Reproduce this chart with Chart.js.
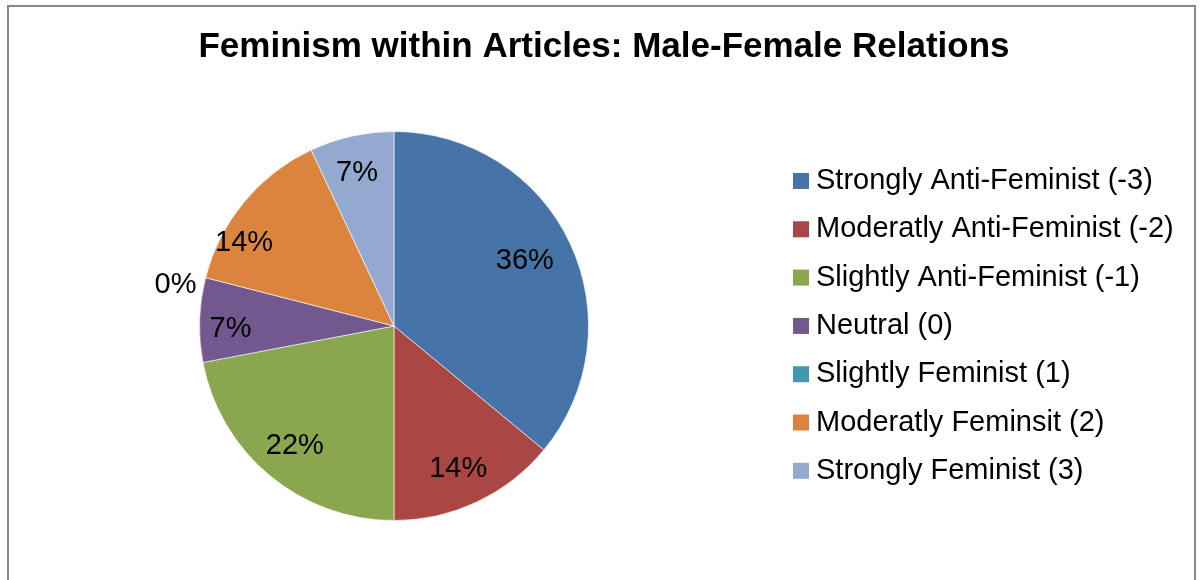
<!DOCTYPE html>
<html>
<head>
<meta charset="utf-8">
<script src="https://cdn.jsdelivr.net/npm/chart.js@4"></script>
<style>
  html, body { margin: 0; padding: 0; background: #fff; overflow: hidden; }
  #frame { position: absolute; left: 7px; top: 5px; width: 1189px; height: 600px; border: 2px solid #878787; box-sizing: border-box; }
  #wrap { position: absolute; left: 0; top: 0; width: 1204px; height: 580px; }
</style>
</head>
<body>
<div id="frame"></div>
<div id="wrap"><canvas id="chart" width="1204" height="580"></canvas></div>
<script>
const chartTitle = 'Feminism within Articles: Male-Female Relations';
const categories = [
    'Strongly Anti-Feminist (-3)',
    'Moderatly Anti-Feminist (-2)',
    'Slightly Anti-Feminist (-1)',
    'Neutral (0)',
    'Slightly Feminist (1)',
    'Moderatly Feminsit (2)',
    'Strongly Feminist (3)'
];
const percentages = [36, 14, 22, 7, 0, 14, 7];
const sliceColors = ['#4674A9', '#AA4644', '#8AA64E', '#72588F', '#4298AF', '#DB843E', '#93A9CF'];

const FONT = '"Liberation Sans", Arial, sans-serif';

// title, legend and percent labels drawn by hand to match the Excel look
const excelBits = {
    id: 'excelBits',
    afterDraw(chart) {
        const ctx = chart.ctx;
        ctx.save();
        ctx.fillStyle = '#000';
        ctx.font = 'bold 35px ' + FONT;
        ctx.textAlign = 'center';
        ctx.textBaseline = 'middle';
        ctx.fillText(chartTitle, 604, 47);

        // legend
        ctx.font = '29px ' + FONT;
        ctx.textAlign = 'left';
        categories.forEach((name, i) => {
            const y = 181 + i * 48.3;
            ctx.fillStyle = sliceColors[i];
            ctx.fillRect(793, y - 8, 16, 16);
            ctx.fillStyle = '#000';
            ctx.fillText(name, 816, y);
        });

        // percent labels, nudged a bit like Excel's "best fit"
        const nudge = [[-10, 1], [-2, 2], [0, 0], [-8, 8], [0, 15], [-30, 16], [-3, -1]];
        const arcs = chart.getDatasetMeta(0).data;
        ctx.textAlign = 'center';
        arcs.forEach((arc, i) => {
            const mid = (arc.startAngle + arc.endAngle) / 2;
            const r = percentages[i] === 0 ? arc.outerRadius * 1.16 : arc.outerRadius * 0.8;
            const x = arc.x + Math.cos(mid) * r + nudge[i][0];
            const y = arc.y + Math.sin(mid) * r + nudge[i][1];
            ctx.fillText(percentages[i] + '%', x, y);
        });
        ctx.restore();
    }
};

new Chart(document.getElementById('chart'), {
    type: 'pie',
    data: {
        labels: categories,
        datasets: [{
            data: percentages,
            backgroundColor: sliceColors,
            borderColor: 'rgba(255,255,255,0.6)',
            borderWidth: 1
        }]
    },
    options: {
        responsive: false,
        animation: false,
        layout: { padding: { left: 199, right: 615, top: 131, bottom: 59 } },
        plugins: {
            legend: { display: false },
            tooltip: { enabled: false }
        }
    },
    plugins: [excelBits]
});
</script>
</body>
</html>
